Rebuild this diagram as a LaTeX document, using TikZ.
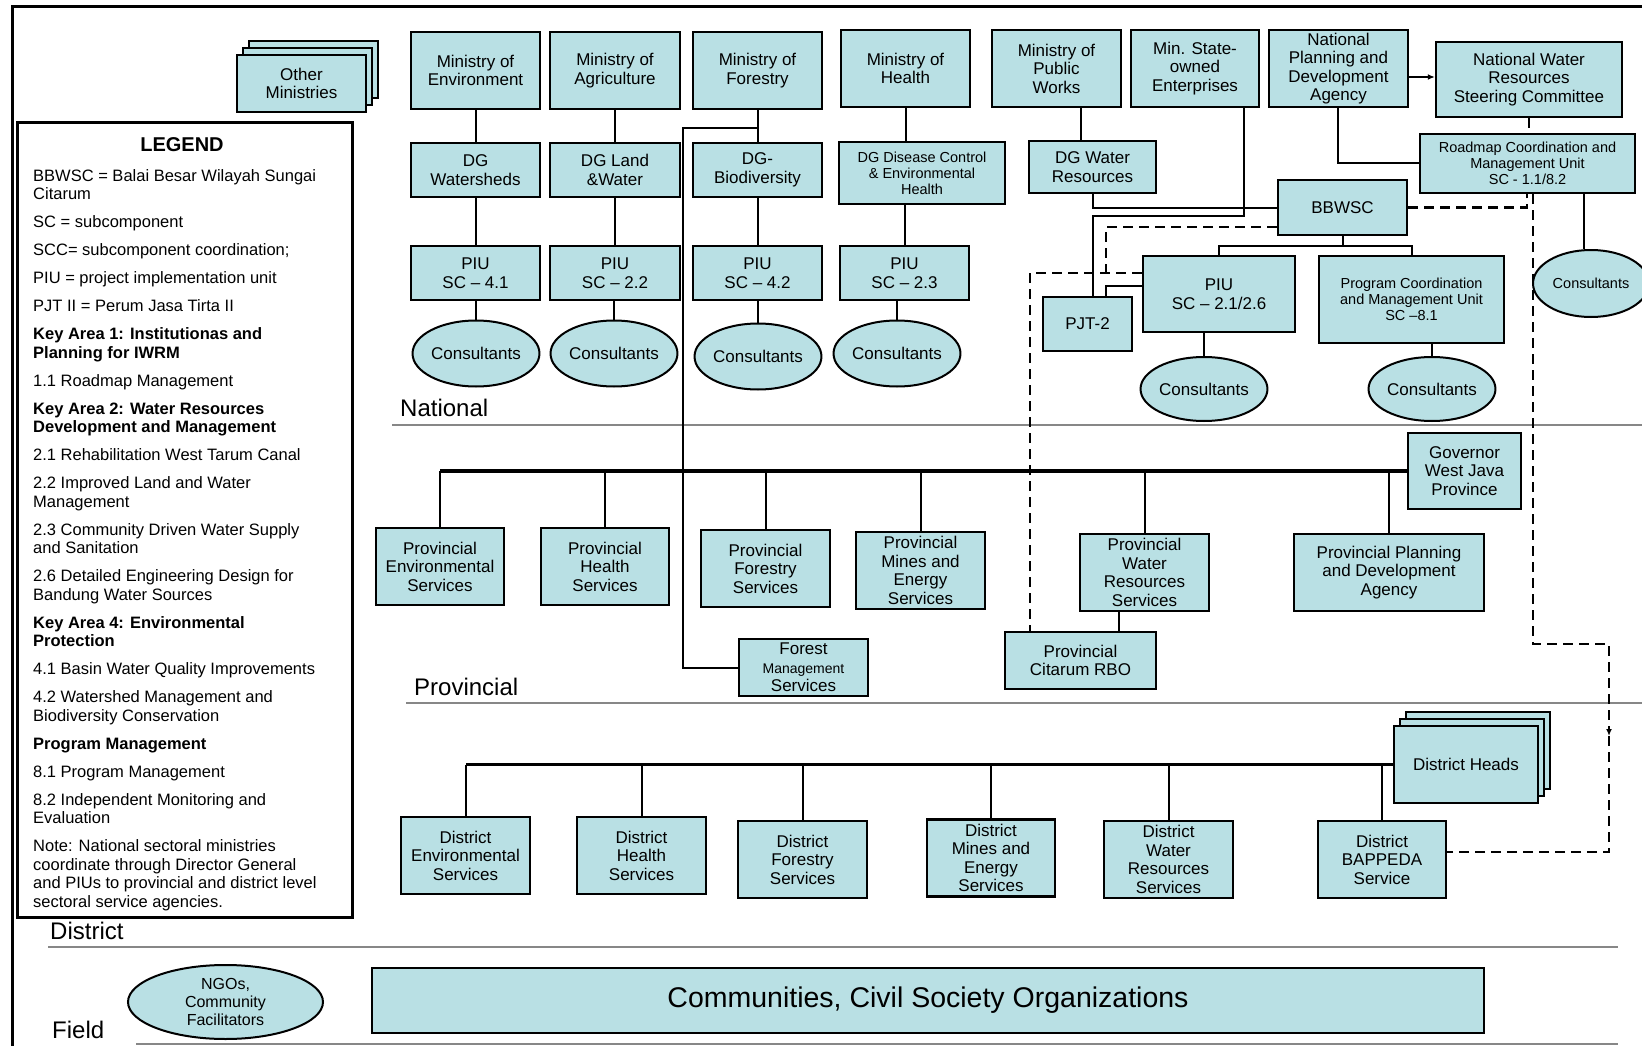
\documentclass[tikz,border=0pt]{standalone}
\usepackage{fontspec}
\setmainfont{Liberation Sans}
\usetikzlibrary{shapes.geometric,shadows,arrows.meta}
\definecolor{unitfill}{RGB}{185,224,228}
\definecolor{levelgray}{RGB}{135,135,135}

\begin{document}
\begin{tikzpicture}[x=1pt,y=-1pt,
  unit/.style={draw, fill=unitfill, line width=2.4pt, align=center, inner sep=0pt, font=\fontsize{17}{18.5}\selectfont},
  small/.style={font=\fontsize{14.5}{16}\selectfont},
  wh/.style 2 args={minimum width=#1, minimum height=#2},
  consult/.style={ellipse, draw, fill=unitfill, line width=2pt, inner sep=0pt, align=center, minimum width=119, minimum height=66, font=\fontsize{17}{18.5}\selectfont},
  stack/.style={double copy shadow={shadow xshift=6pt, shadow yshift=7pt}},
  tie/.style={line width=2pt},
  busline/.style={line width=3.6pt},
  dashedlink/.style={line width=2.2pt, dash pattern=on 10pt off 6pt},
  levelline/.style={levelgray, line width=2.6pt},
  levelname/.style={anchor=west, inner sep=0pt, font=\fontsize{24}{24}\selectfont}]

\useasboundingbox (0,0) rectangle (1642,1046);
\draw[line width=3pt] (12,1046) -- (12,7) -- (1642,7);

\draw[levelline] (392,425) -- (1642,425);
\draw[levelline] (406,703) -- (1642,703);
\draw[levelline] (48,947) -- (1618,947);
\draw[levelline] (136,1044) -- (1618,1044);
\node[levelname] (lnat) at (400,408) {National};
\node[levelname] (lprov) at (414,687) {Provincial};
\node[levelname] (ldist) at (50,931) {District};
\node[levelname] (lfield) at (52,1030) {Field};

% legend
\node[draw, line width=3pt, wh={335}{794}] (legend) at (184.5,520) {};
\node[font=\bfseries\fontsize{20}{20}\selectfont, inner sep=0pt] (legtitle) at (182,145) {LEGEND};
\node[anchor=north west, align=left, inner sep=0pt, font=\fontsize{16.5}{18.5}\selectfont] (legtext) at (33,169) {%
BBWSC = Balai Besar Wilayah Sungai\\Citarum\\[9.5pt]
SC = subcomponent\\[9.5pt]
SCC= subcomponent coordination;\\[9.5pt]
PIU = project implementation unit\\[9.5pt]
PJT II = Perum Jasa Tirta II\\[9.5pt]
\textbf{Key Area 1:  Institutionas and}\\\textbf{Planning for IWRM}\\[9.5pt]
1.1 Roadmap Management\\[9.5pt]
\textbf{Key Area 2: Water Resources}\\\textbf{Development and Management}\\[9.5pt]
2.1 Rehabilitation West Tarum Canal\\[9.5pt]
2.2 Improved Land and Water\\Management\\[9.5pt]
2.3 Community Driven Water Supply\\and Sanitation\\[9.5pt]
2.6 Detailed Engineering Design for\\Bandung Water Sources\\[9.5pt]
\textbf{Key Area 4:  Environmental}\\\textbf{Protection}\\[9.5pt]
4.1 Basin Water Quality Improvements\\[9.5pt]
4.2 Watershed Management and\\Biodiversity Conservation\\[9.5pt]
\textbf{Program Management}\\[9.5pt]
8.1 Program Management\\[9.5pt]
8.2 Independent Monitoring and\\Evaluation\\[9.5pt]
Note: National sectoral ministries\\coordinate through Director General\\and PIUs to provincial and district level\\sectoral service agencies.};

% national
\node[unit, stack, wh={129}{57}] (othmin) at (301.5,83.5) {Other\\Ministries};
\node[unit, wh={129}{77}] (minenv) at (475.5,70.5) {Ministry of\\Environment};
\node[unit, wh={130}{77}] (minagr) at (615,70.5) {Ministry of\\Agriculture};
\node[unit, wh={129}{77}] (minfor) at (757.5,70.5) {Ministry of\\Forestry};
\node[unit, wh={129}{77}] (minhea) at (905.5,68.5) {Ministry of\\Health};
\node[unit, wh={129}{77}] (minpw) at (1056.5,68.5) {Ministry of\\Public\\Works};
\node[unit, wh={128}{77}] (minsoe) at (1195,68.5) {Min. State-\\owned\\Enterprises};
\node[unit, wh={139}{77}] (bappenas) at (1338.5,68.5) {National\\Planning and\\Development\\Agency};
\node[unit, wh={186}{75}] (nwrsc) at (1529,79.5) {National Water\\Resources\\Steering Committee};

\node[unit, wh={129}{54}] (dgws) at (475.5,170) {DG\\Watersheds};
\node[unit, wh={130}{54}] (dglw) at (615,170) {DG Land\\\&Water};
\node[unit, wh={129}{54}] (dgbio) at (757.5,170) {DG-\\Biodiversity};
\node[unit, small, wh={166}{62}] (dgdis) at (922,173) {DG Disease Control\\\& Environmental\\Health};
\node[unit, wh={127}{52}] (dgwr) at (1092.5,167) {DG Water\\Resources};
\node[unit, small, wh={215}{59}] (roadmap) at (1527.5,163.5) {Roadmap Coordination and\\Management Unit\\SC - 1.1/8.2};
\node[unit, wh={129}{55}] (bbwsc) at (1342.5,207.5) {BBWSC};

\node[unit, wh={129}{54}] (piu41) at (475.5,273) {PIU\\SC – 4.1};
\node[unit, wh={130}{54}] (piu22) at (615,273) {PIU\\SC – 2.2};
\node[unit, wh={129}{54}] (piu42) at (757.5,273) {PIU\\SC – 4.2};
\node[unit, wh={129}{54}] (piu23) at (904.5,273) {PIU\\SC – 2.3};
\node[unit, wh={152}{76}] (piu21) at (1219,294) {PIU\\SC – 2.1/2.6};
\node[unit, small, wh={185}{87}] (pcmu) at (1411.5,299.5) {Program Coordination\\and Management Unit\\SC –8.1};
\node[unit, wh={89}{54}] (pjt) at (1087.5,324) {PJT-2};

\node[consult] (c41) at (476,353.5) {Consultants};
\node[consult] (c22) at (614,353.5) {Consultants};
\node[consult] (c42) at (758,356.5) {Consultants};
\node[consult] (c23) at (897,353.5) {Consultants};
\node[consult, wh={118}{64}] (cpiu) at (1204,389) {Consultants};
\node[consult, wh={118}{64}] (cpcmu) at (1432,389) {Consultants};
\node[consult, wh={116}{67}, font=\fontsize{14.5}{16}\selectfont] (crm) at (1591,283.5) {Consultants};

\draw[tie] (minenv) -- (dgws) -- (piu41);
\draw[tie] (minagr) -- (dglw) -- (piu22);
\draw[tie] (minfor) -- (dgbio) -- (piu42);
\draw[tie] (minhea.south) -- (minhea.south |- dgdis.north);
\draw[tie] (dgdis.south -| piu23.north) -- (piu23.north);
\foreach \c/\p in {c41/piu41, c22/piu22, c42/piu42, c23/piu23, cpiu/piu21, cpcmu/pcmu}
  \draw[tie] (\c.north) -- (\c.north |- \p.south);
\draw[tie] (roadmap.south -| 1584,0) -- (crm.north -| 1584,0);

\draw[tie] (minpw.south -| 1081,0) -- (dgwr.north -| 1081,0);
\draw[tie] (dgwr.south) |- (bbwsc.west);
\draw[tie] (minsoe.south -| 1244,0) -- (1244,216) -| (pjt.north -| 1093,0);
\draw[tie] (piu21.west |- 0,286) -| (pjt.north -| 1106,0);
\draw[tie] (bbwsc.south) -- (bbwsc.south |- 0,246);
\draw[tie] (piu21.north) |- (pcmu.north |- 0,246) -- (pcmu.north);
\draw[tie] (bappenas.south -| 1338,0) |- (roadmap.west);
\draw[tie, -{Latex[length=7pt,width=6pt]}] (bappenas.east |- 0,77) -- (nwrsc.west |- 0,77);

\draw[dashedlink] (nwrsc.south) -- (nwrsc.south |- roadmap.north);
\draw[dashedlink] (bbwsc.east) -| (roadmap.south -| 1527,0);
\draw[dashedlink] (bbwsc.west |- 0,227) -| (1106,273);

% provincial
\node[unit, wh={129}{57}] (fms) at (803.5,667.5) {Forest\\{\fontsize{14}{15}\selectfont Management}\\Services};
\node[unit, wh={128}{77}] (penv) at (440,566.5) {Provincial\\Environmental\\Services};
\node[unit, wh={128}{77}] (phea) at (605,566.5) {Provincial\\Health\\Services};
\node[unit, wh={129}{77}] (pfor) at (765.5,568.5) {Provincial\\Forestry\\Services};
\node[unit, wh={129}{77}] (pmin) at (920.5,570.5) {Provincial\\Mines and\\Energy\\Services};
\node[unit, wh={129}{77}] (pwr) at (1144.5,572.5) {Provincial\\Water\\Resources\\Services};
\node[unit, wh={190}{77}] (pbap) at (1389,572.5) {Provincial Planning\\and Development\\Agency};
\node[unit, wh={113}{76}] (gov) at (1464.5,471) {Governor\\West Java\\Province};
\node[unit, wh={151}{57}] (rbo) at (1080.5,660.5) {Provincial\\Citarum RBO};

\draw[tie] (minfor.south |- 0,128) -- (683,128) |- (fms.west);
\draw[busline] (gov.west) -- (gov.west -| penv.north);
\foreach \n in {penv,phea,pfor,pmin,pwr,pbap}
  \draw[tie] (\n.north) -- (\n.north |- gov.west);
\draw[tie] (pwr.south -| 1119,0) -- (rbo.north -| 1119,0);
\draw[dashedlink] (piu21.west |- 0,273) -| (rbo.north -| 1030,0);

% district
\node[unit, stack, wh={144}{77}] (dheads) at (1466,764.5) {District Heads};
\node[unit, wh={129}{77}] (denv) at (465.5,855.5) {District\\Environmental\\Services};
\node[unit, wh={129}{77}] (dhea) at (641.5,855.5) {District\\Health\\Services};
\node[unit, wh={129}{77}] (dfor) at (802.5,859.5) {District\\Forestry\\Services};
\node[unit, wh={128}{77}] (dmin) at (991,858) {District\\Mines and\\Energy\\Services};
\node[unit, wh={129}{77}] (dwr) at (1168.5,859.5) {District\\Water\\Resources\\Services};
\node[unit, wh={128}{77}] (dbap) at (1382,859.5) {District\\BAPPEDA\\Service};

\draw[tie, line width=2.6pt] (dheads.west) -- (dheads.west -| denv.north);
\foreach \n in {denv,dhea,dfor,dmin,dwr,dbap}
  \draw[tie] (\n.north) -- (\n.north |- dheads.west);
\draw[dashedlink, -{Latex[length=7pt,width=6pt]}] (roadmap.south -| 1533,0) |- (1609,644) -- (1609,736);
\draw[dashedlink] (1609,736) |- (dbap.east |- 0,852);

% field
\node[consult, wh={195}{74}, font=\fontsize{16}{18}\selectfont] (ngo) at (225.5,1002) {NGOs,\\Community\\Facilitators};
\node[unit, wh={1112}{65}, font=\fontsize{28.5}{28.5}\selectfont] (comm) at (928,1000.5) {Communities, Civil Society Organizations};
\end{tikzpicture}
\end{document}
